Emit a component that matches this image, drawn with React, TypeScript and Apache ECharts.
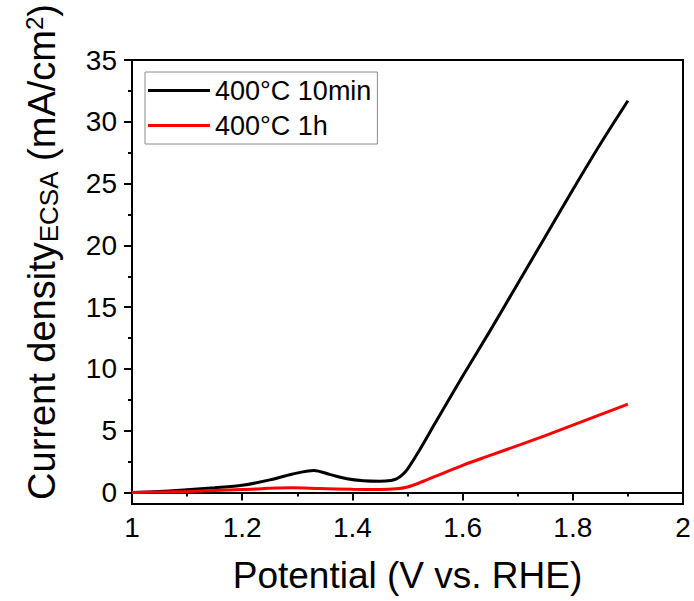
import React, { useEffect, useRef } from "react";
import * as echarts from "echarts";

const potentialBlack = [1.0, 1.05, 1.1, 1.15, 1.2, 1.25, 1.29, 1.33, 1.36, 1.39, 1.42, 1.45, 1.47, 1.48, 1.49, 1.5, 1.52, 1.55, 1.6, 1.65, 1.7, 1.75, 1.8, 1.85, 1.9];
const currentBlack = [0.0, 0.08, 0.22, 0.38, 0.58, 1.02, 1.48, 1.78, 1.45, 1.12, 0.96, 0.92, 0.98, 1.1, 1.4, 1.9, 3.3, 5.6, 9.4, 13.1, 16.9, 20.7, 24.5, 28.2, 31.7];

const potentialRed = [1.0, 1.1, 1.2, 1.29, 1.34, 1.4, 1.45, 1.48, 1.5, 1.52, 1.55, 1.6, 1.65, 1.7, 1.75, 1.8, 1.85, 1.9];
const currentRed = [0.0, 0.08, 0.24, 0.38, 0.32, 0.26, 0.24, 0.3, 0.45, 0.75, 1.3, 2.2, 3.0, 3.8, 4.6, 5.45, 6.3, 7.15];

const seriesNames = ["400°C 10min", "400°C 1h"];
const yTickValues = [0, 5, 10, 15, 20, 25, 30, 35];
const yMinorTickValues = [2.5, 7.5, 12.5, 17.5, 22.5, 27.5, 32.5];

const FONT = "Liberation Sans, Arial, sans-serif";

export default function App() {
  const ref = useRef<HTMLDivElement>(null);
  useEffect(() => {
    if (!ref.current) return;
    const chart = echarts.init(ref.current, null, { renderer: "svg" });
    const blackData = potentialBlack.map((x, i) => [x, currentBlack[i]]);
    const redData = potentialRed.map((x, i) => [x, currentRed[i]]);
    chart.setOption({
      animation: false,
      backgroundColor: "#ffffff",
      textStyle: { fontFamily: FONT },
      grid: {
        left: 132,
        right: 11,
        top: 60,
        bottom: 97,
        show: true,
        borderColor: "#000",
        borderWidth: 2,
        backgroundColor: "transparent",
      },
      legend: {
        left: 145,
        top: 72,
        orient: "vertical",
        data: seriesNames.map((n) => ({ name: n, icon: "rect" })),
        itemWidth: 62,
        itemHeight: 3,
        itemGap: 8,
        padding: [5, 6, 5, 3],
        borderColor: "#8a8a8a",
        borderWidth: 1,
        textStyle: { fontSize: 27, color: "#000", fontFamily: FONT, padding: [0, 0, 0, 0] },
      },
      xAxis: {
        type: "value",
        min: 1,
        max: 2,
        interval: 0.2,
        name: "Potential (V vs. RHE)",
        nameLocation: "middle",
        nameGap: 53,
        nameTextStyle: { fontSize: 37, color: "#000", fontFamily: FONT },
        axisLine: { show: true, lineStyle: { color: "#000", width: 2 } },
        axisTick: { show: true, inside: false, length: 8, lineStyle: { color: "#000", width: 2 } },
        minorTick: { show: true, splitNumber: 2, length: 4, lineStyle: { color: "#000", width: 2 } },
        axisLabel: { fontSize: 28, color: "#000", margin: 9, fontFamily: FONT },
        splitLine: { show: false },
        minorSplitLine: { show: false },
      },
      yAxis: [
        {
          type: "value",
          min: -0.93,
          max: 35,
          axisLine: { show: true, onZero: false, lineStyle: { color: "#000", width: 2 } },
          axisTick: { show: true, length: 8, customValues: yTickValues, lineStyle: { color: "#000", width: 2 } },
          axisLabel: { fontSize: 28, color: "#000", margin: 15, fontFamily: FONT, customValues: yTickValues },
          splitLine: { show: false },
        },
        {
          type: "value",
          min: -0.93,
          max: 35,
          position: "left",
          axisLine: { show: false, onZero: false },
          axisTick: { show: true, length: 4, customValues: yMinorTickValues, lineStyle: { color: "#000", width: 2 } },
          axisLabel: { show: false, customValues: yMinorTickValues },
          splitLine: { show: false },
        },
      ],
      graphic: [
        {
          type: "text",
          x: 42,
          y: 252,
          rotation: Math.PI / 2,
          style: {
            text: "Current density{sub|ECSA} (mA/cm{sup|2})",
            fontSize: 38,
            fontFamily: FONT,
            fill: "#000",
            align: "center",
            verticalAlign: "middle",
            lineHeight: 40,
            rich: {
              sub: { fontSize: 26, fontFamily: FONT, fill: "#000", lineHeight: 24, verticalAlign: "bottom" },
              sup: { fontSize: 24, fontFamily: FONT, fill: "#000", lineHeight: 22, verticalAlign: "top" },
            },
          },
        },
      ],
      series: [
        {
          name: seriesNames[0],
          type: "line",
          data: blackData,
          smooth: 0.3,
          showSymbol: false,
          symbol: "none",
          lineStyle: { color: "#000", width: 3 },
          itemStyle: { color: "#000" },
          z: 3,
        },
        {
          name: seriesNames[1],
          type: "line",
          data: redData,
          smooth: 0.3,
          showSymbol: false,
          symbol: "none",
          lineStyle: { color: "#ff0000", width: 3 },
          itemStyle: { color: "#ff0000" },
          z: 4,
        },
      ],
    });
    return () => chart.dispose();
  }, []);
  return <div ref={ref} style={{ width: 694, height: 601, position: "absolute", left: 0, top: 0 }} />;
}
